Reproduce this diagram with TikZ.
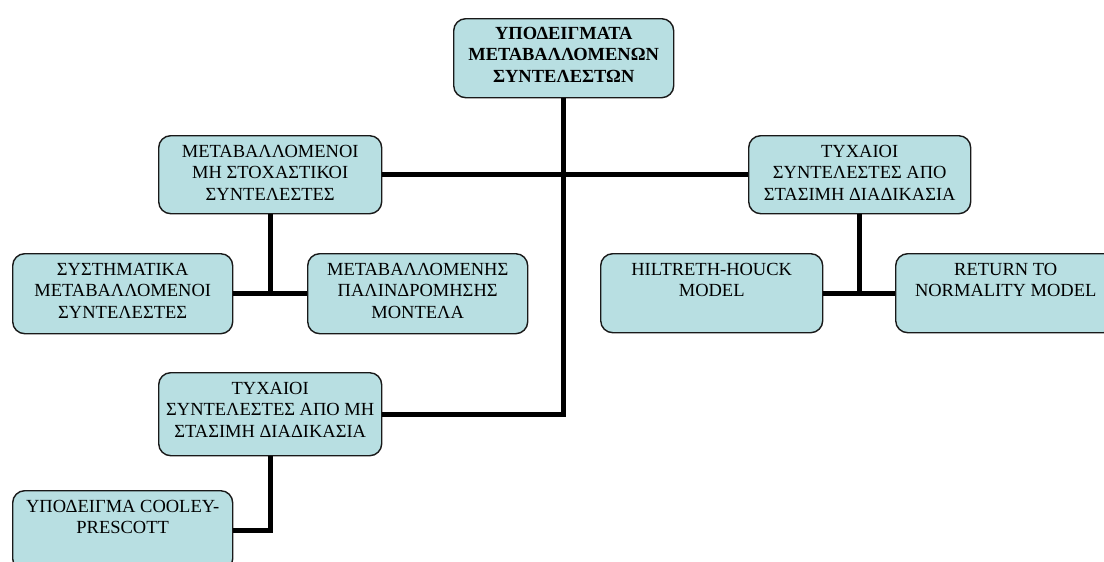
\documentclass[tikz,border=0pt]{standalone}
\usepackage{fontspec}
\setmainfont{Liberation Serif}
\definecolor{boxfill}{RGB}{184,223,226}
\newcommand{\bxt}[4]{\parbox[c][#2][t]{#1}{\centering\vspace*{#3}#4\par}}
\begin{document}
\begin{tikzpicture}[x=1pt,y=-1pt,
  box/.style={draw=black!90, line width=1.4pt, fill=boxfill, rounded corners=12pt,
    inner sep=0pt, anchor=north west, font=\fontsize{18.5}{21.5}\selectfont},
  conn/.style={line width=5pt, draw=black}]
\useasboundingbox (0,0) rectangle (1104,562);
\clip (0,0) rectangle (1104,562);
\node[box] (top) at (453,18) {\bxt{220pt}{79pt}{8.5pt}{\bfseries ΥΠΟΔΕΙΓΜΑΤΑ\\ΜΕΤΑΒΑΛΛΟΜΕΝΩΝ\\ΣΥΝΤΕΛΕΣΤΩΝ}};
\node[box] (L1) at (158,135) {\bxt{223pt}{78pt}{9.5pt}{ΜΕΤΑΒΑΛΛΟΜΕΝΟΙ\\ΜΗ ΣΤΟΧΑΣΤΙΚΟΙ\\ΣΥΝΤΕΛΕΣΤΕΣ}};
\node[box] (R1) at (748,135) {\bxt{222pt}{78pt}{9.5pt}{ΤΥΧΑΙΟΙ\\ΣΥΝΤΕΛΕΣΤΕΣ ΑΠΟ\\ΣΤΑΣΙΜΗ ΔΙΑΔΙΚΑΣΙΑ}};
\node[box] (L2a) at (12,253) {\bxt{220pt}{80pt}{9.5pt}{ΣΥΣΤΗΜΑΤΙΚΑ\\ΜΕΤΑΒΑΛΛΟΜΕΝΟΙ\\ΣΥΝΤΕΛΕΣΤΕΣ}};
\node[box] (L2b) at (307,253) {\bxt{220pt}{80pt}{9.5pt}{ΜΕΤΑΒΑΛΛΟΜΕΝΗΣ\\ΠΑΛΙΝΔΡΟΜΗΣΗΣ\\ΜΟΝΤΕΛΑ}};
\node[box] (R2a) at (600,253) {\bxt{222pt}{79pt}{9.5pt}{HILTRETH-HOUCK\\MODEL}};
\node[box] (R2b) at (895,253) {\bxt{220pt}{79pt}{9.5pt}{RETURN TO\\NORMALITY MODEL}};
\node[box] (L3) at (158,372) {\bxt{223pt}{83pt}{9.5pt}{ΤΥΧΑΙΟΙ\\ΣΥΝΤΕΛΕΣΤΕΣ ΑΠΟ ΜΗ\\ΣΤΑΣΙΜΗ ΔΙΑΔΙΚΑΣΙΑ}};
\node[box] (L4) at (12,490) {\bxt{220pt}{80pt}{9.5pt}{ΥΠΟΔΕΙΓΜΑ COOLEY-\\PRESCOTT}};
\draw[conn] (top.south) -- (top.south |- L3.east) -- (L3.east);
\draw[conn] (L1.east) -- (R1.west);
\draw[conn] (L1.south) -- (L1.south |- L2a.east);
\draw[conn] (L2a.east) -- (L2b.west);
\draw[conn] (R1.south) -- (R1.south |- R2a.east);
\draw[conn] (R2a.east) -- (R2b.west);
\draw[conn] (L3.south) -- (L3.south |- L4.east) -- (L4.east);
\end{tikzpicture}
\end{document}
